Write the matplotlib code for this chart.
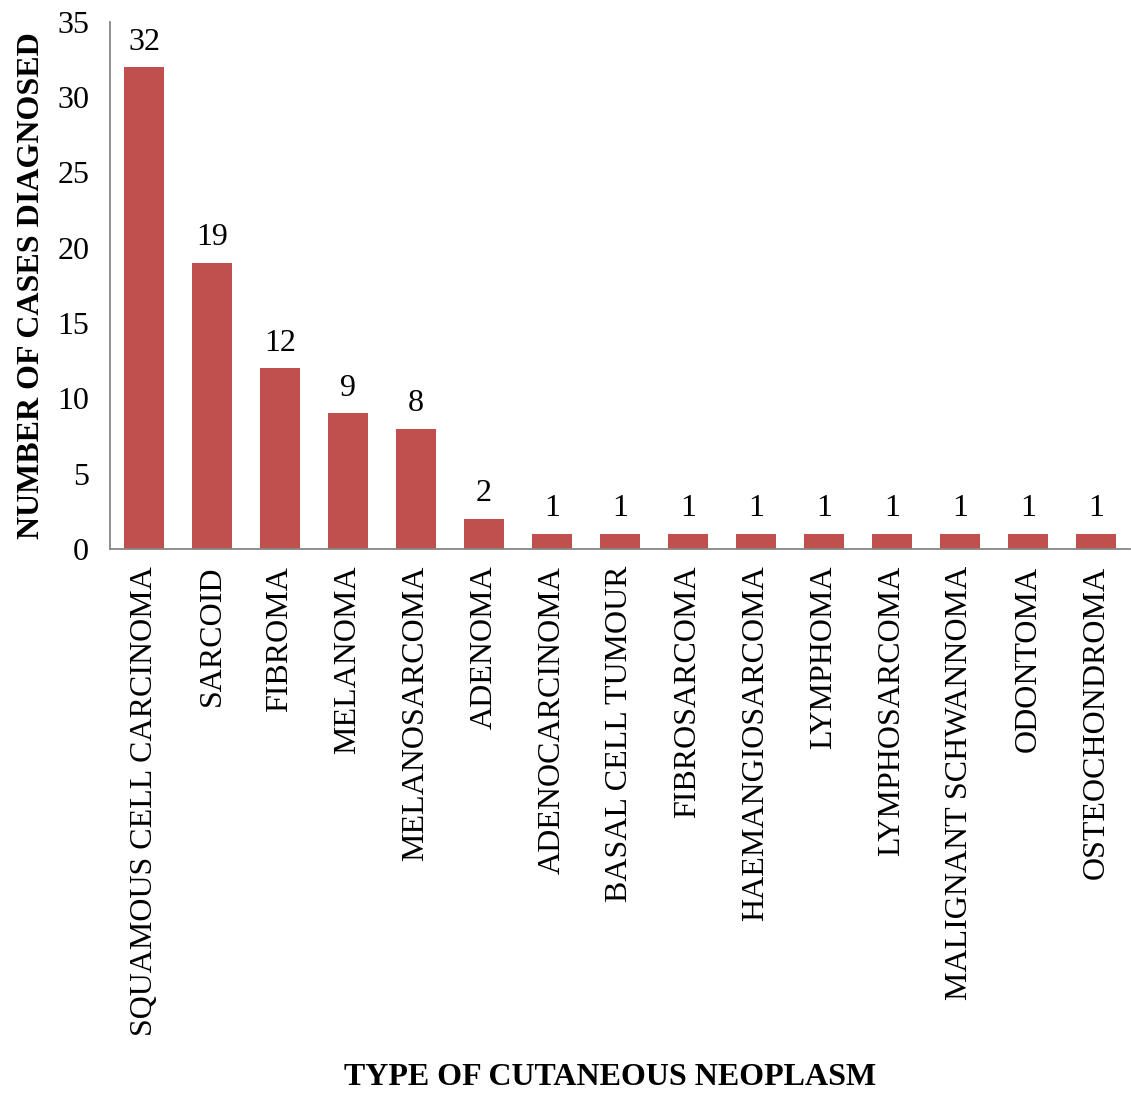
import matplotlib
matplotlib.use("Agg")
import matplotlib.pyplot as plt
import numpy as np

plt.rcParams['font.family'] = ['Liberation Serif', 'DejaVu Serif']

categories = ["SQUAMOUS CELL CARCINOMA", "SARCOID", "FIBROMA", "MELANOMA",
              "MELANOSARCOMA", "ADENOMA", "ADENOCARCINOMA", "BASAL CELL TUMOUR",
              "FIBROSARCOMA", "HAEMANGIOSARCOMA", "LYMPHOMA", "LYMPHOSARCOMA",
              "MALIGNANT SCHWANNOMA", "ODONTOMA", "OSTEOCHONDROMA"]
cases = [32, 19, 12, 9, 8, 2, 1, 1, 1, 1, 1, 1, 1, 1, 1]

fig = plt.figure(figsize=(11.31, 10.93), dpi=100)
ax = fig.add_axes([0.0973, 0.4977, 0.9017, 0.4823])

x = np.arange(len(categories))
bars = ax.bar(x, cases, width=0.58, color='#C0504D')
for xi, v in zip(x, cases):
    ax.text(xi, v + 0.7, str(v), ha='center', va='bottom', fontsize=23)

ax.set_xlim(-0.5, len(categories) - 0.5)
ax.set_ylim(0, 35)
ax.set_yticks(range(0, 36, 5))
ax.set_xticks(x)
ax.set_xticklabels(categories, rotation=90, fontsize=23)
ax.tick_params(axis='both', length=0, labelsize=23)
ax.tick_params(axis='x', pad=12)
ax.tick_params(axis='y', pad=15)

for s in ['top', 'right']:
    ax.spines[s].set_visible(False)
for s in ['left', 'bottom']:
    ax.spines[s].set_color('#868686')
    ax.spines[s].set_linewidth(1.3)

ax.set_ylabel("NUMBER OF CASES DIAGNOSED", fontsize=23, fontweight='bold', labelpad=8)
fig.text(0.539, 0.0146, "TYPE OF CUTANEOUS NEOPLASM", ha='center', va='center',
         fontsize=23, fontweight='bold')

fig.savefig("out.png", dpi=100)
